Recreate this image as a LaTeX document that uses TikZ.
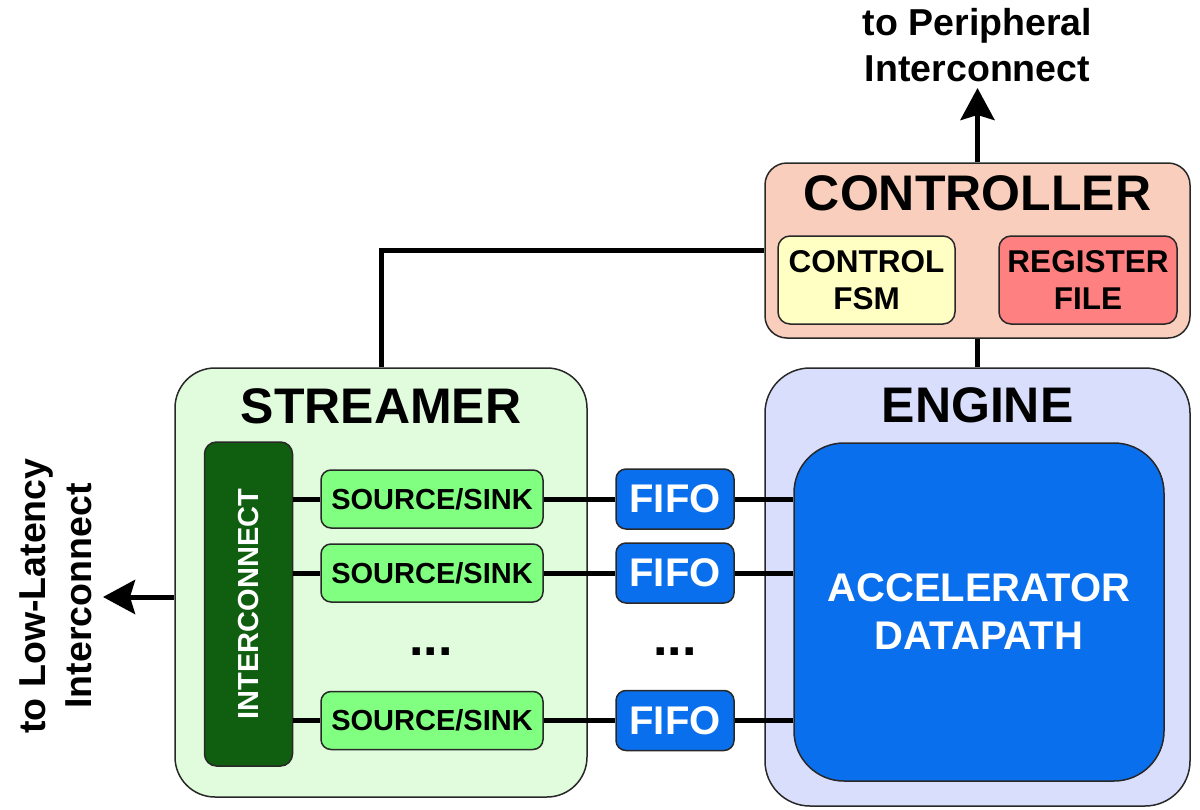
\documentclass[tikz,border=0pt]{standalone}
\usepackage{fontspec}
\setmainfont{Liberation Sans}
\usetikzlibrary{arrows.meta}

\definecolor{ctrlfill}{RGB}{250,206,188}
\definecolor{fsmfill}{RGB}{255,255,196}
\definecolor{regfill}{RGB}{255,128,128}
\definecolor{strfill}{RGB}{225,252,220}
\definecolor{ssfill}{RGB}{128,255,128}
\definecolor{icfill}{RGB}{16,94,16}
\definecolor{engfill}{RGB}{217,222,252}
\definecolor{bluefill}{RGB}{10,111,236}
\definecolor{edgecol}{RGB}{40,40,40}

\newcommand{\bsz}[2]{\fontsize{#1}{#2}\selectfont\bfseries}

\begin{document}
\begin{tikzpicture}[x=1pt,y=-1pt,
  box/.style={draw=edgecol, line width=1.5pt, inner sep=0pt, rectangle},
  title/.style={font=\bsz{50}{56}, inner sep=0pt},
  wire/.style={line width=5pt, draw=black},
  arr/.style={wire, -{Stealth[length=32pt,width=34pt,inset=5pt]}},
  srcsink/.style={box, fill=ssfill, rounded corners=10pt, minimum width=222pt, minimum height=58pt, font=\bsz{29}{33}},
  fifo/.style={box, fill=bluefill, rounded corners=10pt, minimum width=118pt, minimum height=60pt, text=white, font=\bsz{40}{44}},
  dots/.style={font=\bsz{52}{52}, anchor=base, inner sep=0pt},
]
\useasboundingbox (0,0) rectangle (1200,809);

% controller block
\node[box, fill=ctrlfill, rounded corners=22pt, minimum width=425pt, minimum height=175pt] (ctrl) at (977.5,250.5) {};
\node[title] (ctrltitle) at (977.5,193) {CONTROLLER};
\node[box, fill=fsmfill, rounded corners=12pt, minimum width=177pt, minimum height=88pt, align=center, font=\bsz{31.5}{37}] (fsm) at (866.5,280) {CONTROL\\FSM};
\node[box, fill=regfill, rounded corners=12pt, minimum width=178pt, minimum height=88pt, align=center, font=\bsz{31.5}{37}] (reg) at (1088,280) {REGISTER\\FILE};

% streamer block
\node[box, fill=strfill, rounded corners=40pt, minimum width=412pt, minimum height=429pt] (streamer) at (381,582.5) {};
\node[title] (strtitle) at (381,406.5) {STREAMER};
\node[box, fill=icfill, rounded corners=12pt, minimum width=88pt, minimum height=324pt] (ic) at (248.5,604) {};
\node[rotate=90, text=white, font=\bsz{29}{33}, inner sep=0pt] (ictext) at (ic.center) {INTERCONNECT};
\node[srcsink] (ss1) at (432,499) {SOURCE/SINK};
\node[srcsink] (ss2) at (432,573) {SOURCE/SINK};
\node[srcsink] (ss3) at (432,720.5) {SOURCE/SINK};
\node[dots] (sdots) at (431,655) {...};

% fifos
\node[fifo] (f1) at (675,499) {FIFO};
\node[fifo] (f2) at (675,573) {FIFO};
\node[fifo] (f3) at (675,720.5) {FIFO};
\node[dots] (fdots) at (675,655) {...};

% engine block
\node[box, fill=engfill, rounded corners=45pt, minimum width=425pt, minimum height=438pt] (engine) at (977.5,587) {};
\node[title] (engtitle) at (977.5,405.5) {ENGINE};
\node[box, fill=bluefill, rounded corners=50pt, minimum width=370pt, minimum height=338pt, text=white, align=center, font=\bsz{40}{48}] (acc) at (979,612) {ACCELERATOR\\DATAPATH};

% connections
\draw[wire] (ctrl.west) -| (streamer.north);
\draw[wire] (ctrl.south) -- (engine.north);
\coordinate (periph) at (977.5,88);
\draw[arr] (ctrl.north) -- (periph);
\coordinate (lowlat) at (103,597);
\draw[arr] (streamer.west |- lowlat) -- (lowlat);

\foreach \i in {1,2,3} {
  \draw[wire] (ss\i.west -| ic.east) -- (ss\i.west);
  \draw[wire] (ss\i.east) -- (f\i.west);
  \draw[wire] (f\i.east) -- (f\i.east -| acc.west);
}

% external labels
\node[font=\bsz{37.5}{46}, align=center, inner sep=0pt] (plabel) at (977.5,45) {to Peripheral\\Interconnect};
\node[rotate=90, font=\bsz{37.5}{46}, align=center, inner sep=0pt] (llabel) at (56,596) {to Low-Latency\\Interconnect};
\end{tikzpicture}
\end{document}
